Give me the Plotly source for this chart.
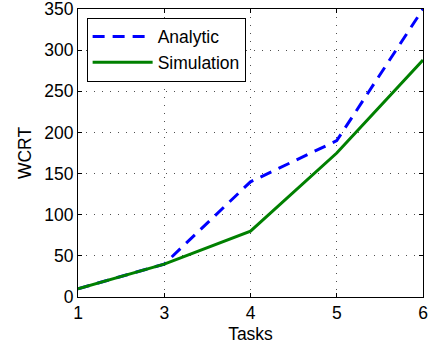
import plotly.graph_objects as go

# Task counts shown on the x axis (evenly spaced categories)
tasks = ["1", "3", "4", "5", "6"]
# Worst-case response time per configuration
wcrt_analytic = [10, 40, 140, 190, 350]
wcrt_simulation = [10, 40, 80, 175, 288]

pos = list(range(len(tasks)))
FONT = "Liberation Sans, Arial, Helvetica, sans-serif"

fig = go.Figure()
fig.add_trace(go.Scatter(
    x=pos, y=wcrt_analytic, mode="lines", name="Analytic",
    line=dict(color="#0000ff", width=3, dash="12px,8px"),
))
fig.add_trace(go.Scatter(
    x=pos, y=wcrt_simulation, mode="lines", name="Simulation",
    line=dict(color="#008000", width=3),
))

axis_common = dict(
    showline=True, linecolor="black", linewidth=1, mirror="ticks",
    ticks="inside", ticklen=4, tickcolor="black", automargin=False,
    ticklabeloverflow="allow",
    showgrid=True, gridcolor="rgba(60,60,60,0.9)", gridwidth=1, griddash="1px,7px",
    zeroline=False, tickfont=dict(size=17.5, color="black", family=FONT),
    title_font=dict(size=17.5, color="black", family=FONT),
)

fig.update_xaxes(
    range=[0, len(tasks) - 1], tickmode="array", tickvals=pos, ticktext=tasks,
    title_text="Tasks", title_standoff=6, **axis_common,
)
fig.update_yaxes(
    range=[0, 350], tickmode="array", tickvals=list(range(0, 351, 50)),
    title_text="WCRT", title_standoff=8, **axis_common,
)

fig.update_layout(
    width=436, height=344,
    margin=dict(l=78, r=13, t=9, b=47),
    paper_bgcolor="white", plot_bgcolor="white",
    font=dict(family=FONT, size=17.5, color="black"),
    showlegend=True,
    legend=dict(
        x=0.025, y=0.97, xanchor="left", yanchor="top",
        bgcolor="white", bordercolor="black", borderwidth=1,
        itemwidth=60, tracegroupgap=0,
        font=dict(size=17.5, family=FONT, color="black"),
    ),
)

fig.write_html("out.html")
